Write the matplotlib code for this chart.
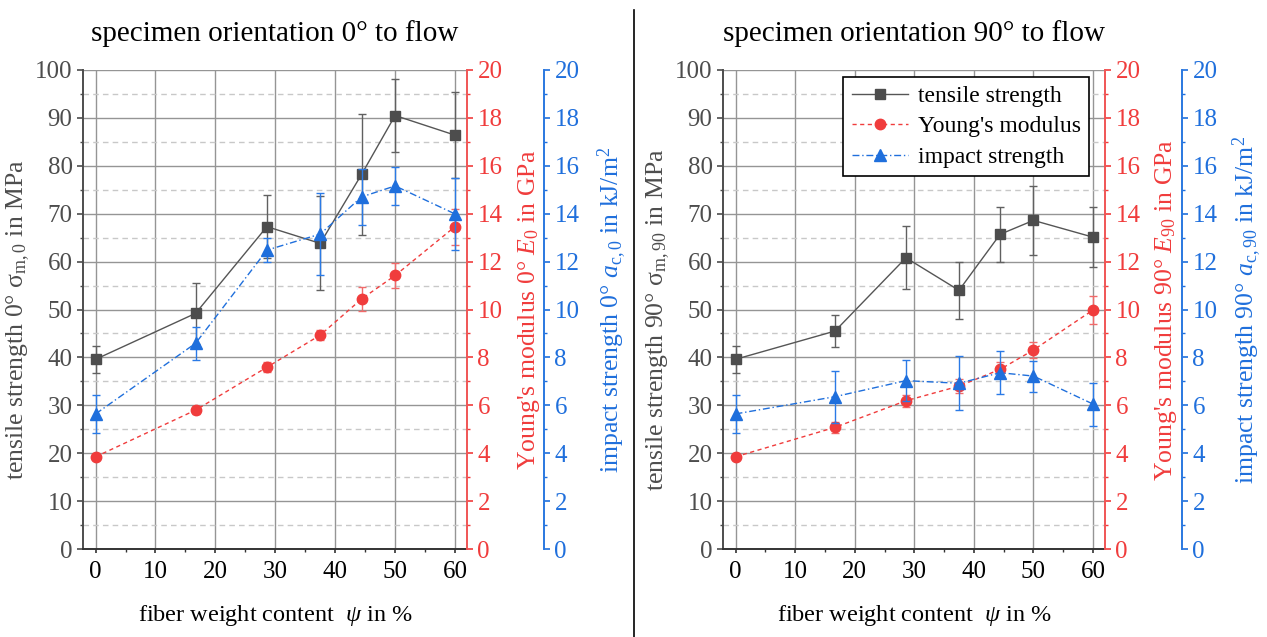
import matplotlib
matplotlib.use("Agg")
import matplotlib.pyplot as plt
import matplotlib.ticker as ticker
from matplotlib.lines import Line2D

# --- Data ---

fiber_content = [0, 16.7, 28.6, 37.5, 44.4, 50, 60]

tensile_0      = [39.6, 49.2, 67.3, 63.8, 78.2, 90.5, 86.4]
tensile_0_err  = [2.8, 6.4, 6.6, 9.8, 12.7, 7.7, 9.0]
young_0        = [3.85, 5.80, 7.59, 8.93, 10.44, 11.42, 13.46]
young_0_err    = [0.12, 0.15, 0.22, 0.2, 0.5, 0.53, 0.75]
impact_0       = [5.64, 8.59, 12.48, 13.15, 14.7, 15.16, 13.99]
impact_0_err   = [0.78, 0.7, 0.5, 1.7, 1.17, 0.78, 1.5]

tensile_90     = [39.6, 45.5, 60.8, 54.0, 65.7, 68.6, 65.1]
tensile_90_err = [2.8, 3.3, 6.6, 6.0, 5.8, 7.2, 6.2]
young_90       = [3.85, 5.08, 6.19, 6.80, 7.50, 8.31, 9.98]
young_90_err   = [0.12, 0.23, 0.25, 0.28, 0.3, 0.32, 0.6]
impact_90      = [5.64, 6.36, 7.03, 6.92, 7.36, 7.22, 6.05]
impact_90_err  = [0.78, 1.08, 0.86, 1.12, 0.9, 0.65, 0.9]

legend_labels = ["tensile strength", "Young's modulus", "impact strength"]

# --- Config ---

W, H = 1267, 637
GRAY  = "#4d4d4d"
RED   = "#f03c3c"
BLUE  = "#1f6fdc"
GRID  = "#959595"
MINOR = "#c8c8c8"

FS_TITLE  = 21
FS_XLABEL = 17.5
FS_YLABEL = 18.5
FS_TICK   = 18
FS_LEG    = 17

plt.rcParams["font.family"] = ["Liberation Serif", "DejaVu Serif"]
plt.rcParams["mathtext.fontset"] = "custom"
plt.rcParams["mathtext.rm"] = "Liberation Serif"
plt.rcParams["mathtext.it"] = "Liberation Serif:italic"
plt.rcParams["mathtext.bf"] = "Liberation Serif:bold"


def draw_panel(ax, tensile, tensile_err, young, young_err, impact, impact_err,
               angle, title, label_x, legend=False):
    width_px = ax.get_position().width * W
    blue_off = 1 + 77 / width_px

    ax_r = ax.twinx()
    ax_b = ax.twinx()
    ax_b.spines["right"].set_position(("axes", blue_off))

    for a in (ax_r, ax_b):
        for s in ("top", "left", "bottom"):
            a.spines[s].set_visible(False)
    ax.spines["top"].set_visible(False)
    ax.spines["right"].set_visible(False)

    # --- tensile strength (host axis) ---
    ax.errorbar(fiber_content, tensile, yerr=tensile_err, fmt="none",
                ecolor="#606060", elinewidth=1.0, capsize=3, capthick=1.0, zorder=3)
    l1, = ax.plot(fiber_content, tensile, color="#555555", lw=1.0,
                  marker="s", ms=7.5, mfc=GRAY, mec=GRAY, zorder=4)

    # --- Young's modulus ---
    ax_r.errorbar(fiber_content, young, yerr=young_err, fmt="none",
                  ecolor="#f06a6a", elinewidth=1.0, capsize=3, capthick=1.0, zorder=3)
    l2, = ax_r.plot(fiber_content, young, color=RED, lw=1.0, dashes=(3, 2.5),
                    marker="o", ms=7.5, mfc=RED, mec=RED, zorder=4)

    # --- impact strength ---
    ax_b.errorbar(fiber_content, impact, yerr=impact_err, fmt="none",
                  ecolor="#2a7ae6", elinewidth=1.0, capsize=3, capthick=1.0, zorder=3)
    l3, = ax_b.plot(fiber_content, impact, color=BLUE, lw=1.0, dashes=(5, 2, 1, 2),
                    marker="^", ms=8.5, mfc=BLUE, mec=BLUE, zorder=4)

    # --- Limits / ticks ---
    ax.set_xlim(-2.1, 62)
    ax.set_ylim(0, 100)
    ax_r.set_ylim(0, 20)
    ax_b.set_ylim(0, 20)

    ax.xaxis.set_major_locator(ticker.MultipleLocator(10))
    ax.xaxis.set_minor_locator(ticker.MultipleLocator(5))
    ax.yaxis.set_major_locator(ticker.MultipleLocator(10))
    ax.yaxis.set_minor_locator(ticker.MultipleLocator(5))
    for a in (ax_r, ax_b):
        a.yaxis.set_major_locator(ticker.MultipleLocator(2))
        a.yaxis.set_minor_locator(ticker.MultipleLocator(1))

    ax.tick_params(axis="x", which="major", length=3, width=1.2, colors="#333333",
                   labelcolor="black", labelsize=FS_TICK, pad=6)
    ax.tick_params(axis="x", which="minor", length=2, width=1.0, colors="#333333")
    ax.tick_params(axis="y", which="major", length=4.5, width=1.2, colors=GRAY,
                   labelsize=FS_TICK, pad=3)
    ax.tick_params(axis="y", which="minor", length=2.5, width=1.0, colors=GRAY)
    for a, c in ((ax_r, RED), (ax_b, BLUE)):
        a.tick_params(axis="y", which="major", length=4.5, width=1.2, colors=c,
                      labelsize=FS_TICK, pad=3)
        a.tick_params(axis="y", which="minor", length=2.5, width=1.0, colors=c)
    ax.spines["left"].set_color(GRAY)
    ax.spines["left"].set_linewidth(1.4)
    ax.spines["bottom"].set_color("#333333")
    ax.spines["bottom"].set_linewidth(1.4)
    ax_r.spines["right"].set_color("#f05555")
    ax_r.spines["right"].set_linewidth(1.4)
    ax_b.spines["right"].set_color("#2a78e0")
    ax_b.spines["right"].set_linewidth(1.4)

    # --- Grid ---
    ax.set_axisbelow(True)
    ax.grid(True, which="major", color=GRID, lw=1.0)
    ax.grid(True, which="minor", axis="y", color=MINOR, lw=1.0, dashes=(4, 3))

    # --- Labels ---
    ax.set_title(title, fontsize=FS_TITLE, pad=21)
    ax.set_xlabel(r"fiber weight content  $\psi$ in %", fontsize=FS_XLABEL)
    ax.xaxis.set_label_coords(0.5, -0.113)
    ax.set_ylabel(f"tensile strength {angle}° σ" + r"$_{\mathrm{m," + angle + r"}}$ in MPa",
                  fontsize=FS_YLABEL, color=GRAY)
    ax.yaxis.set_label_coords(label_x[0], 0.478)
    ax_r.set_ylabel(f"Young's modulus {angle}° " + r"$E_{\mathrm{" + angle + r"}}$ in GPa",
                    fontsize=FS_YLABEL, color=RED)
    ax_r.yaxis.set_label_coords(label_x[1], 0.5)
    ax_b.set_ylabel(f"impact strength {angle}° " + r"$a_{\mathrm{c," + angle + r"}}$ in kJ/m$^{2}$",
                    fontsize=FS_YLABEL, color=BLUE)
    ax_b.yaxis.set_label_coords(label_x[2], 0.5)

    if legend:
        leg = ax_b.legend([l1, l2, l3], legend_labels, fontsize=FS_LEG,
                          loc="upper right", bbox_to_anchor=(0.958, 0.985),
                          borderaxespad=0, fancybox=False, framealpha=1,
                          edgecolor="black", handlelength=2.4, handletextpad=0.4,
                          labelspacing=0.38, borderpad=0.35)
        leg.get_frame().set_linewidth(1.2)


def main():
    fig = plt.figure(figsize=(W / 100, H / 100), dpi=100)

    bottom = 1 - 549 / H
    height = (549 - 70) / H
    ax_l = fig.add_axes([83 / W, bottom, (467 - 83) / W, height])
    ax_rp = fig.add_axes([723 / W, bottom, (1105 - 723) / W, height])

    draw_panel(ax_l, tensile_0, tensile_0_err, young_0, young_0_err,
               impact_0, impact_0_err, "0", "specimen orientation 0° to flow",
               (-0.133, 1.128, 1.336))
    draw_panel(ax_rp, tensile_90, tensile_90_err, young_90, young_90_err,
               impact_90, impact_90_err, "90", "specimen orientation 90° to flow",
               (-0.134, 1.126, 1.330), legend=True)

    # separator between the two panels
    fig.add_artist(Line2D([634 / W, 634 / W], [0, 1 - 10 / H],
                          transform=fig.transFigure, color="black", lw=1.2))

    fig.savefig("out.png", dpi=100)


if __name__ == "__main__":
    main()
